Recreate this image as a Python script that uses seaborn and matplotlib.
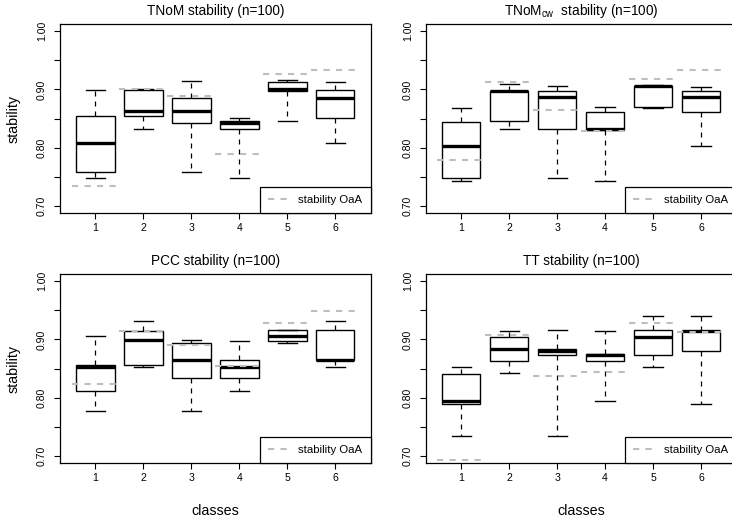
import numpy as np
import pandas as pd
import matplotlib
matplotlib.use("Agg")
import matplotlib.pyplot as plt
from matplotlib.lines import Line2D
import seaborn as sns

plt.rcParams["font.family"] = ["Liberation Sans", "DejaVu Sans"]
plt.rcParams["mathtext.fontset"] = "custom"
plt.rcParams["mathtext.rm"] = "Liberation Sans"
plt.rcParams["mathtext.it"] = "Liberation Sans:italic"

classes = [1, 2, 3, 4, 5, 6]

# Five-number summaries (whisker low, Q1, median, Q3, whisker high) per class
tnom_low = [0.749, 0.833, 0.758, 0.749, 0.846, 0.808]
tnom_q1 = [0.758, 0.855, 0.843, 0.833, 0.897, 0.851]
tnom_median = [0.808, 0.863, 0.863, 0.842, 0.900, 0.886]
tnom_q3 = [0.855, 0.899, 0.886, 0.846, 0.912, 0.899]
tnom_high = [0.899, 0.900, 0.915, 0.851, 0.916, 0.912]
tnom_oaa = [0.735, 0.901, 0.889, 0.789, 0.926, 0.933]

tnomcw_low = [0.744, 0.832, 0.748, 0.744, 0.868, 0.804]
tnomcw_q1 = [0.748, 0.846, 0.832, 0.831, 0.870, 0.862]
tnomcw_median = [0.804, 0.898, 0.887, 0.833, 0.906, 0.887]
tnomcw_q3 = [0.845, 0.898, 0.897, 0.862, 0.906, 0.897]
tnomcw_high = [0.868, 0.909, 0.906, 0.870, 0.908, 0.905]
tnomcw_oaa = [0.780, 0.913, 0.864, 0.829, 0.918, 0.934]

pcc_low = [0.777, 0.853, 0.777, 0.8125, 0.894, 0.853]
pcc_q1 = [0.8125, 0.856, 0.834, 0.834, 0.897, 0.864]
pcc_median = [0.853, 0.899, 0.864, 0.853, 0.906, 0.864]
pcc_q3 = [0.856, 0.915, 0.894, 0.864, 0.916, 0.916]
pcc_high = [0.906, 0.931, 0.899, 0.897, 0.916, 0.931]
pcc_oaa = [0.824, 0.915, 0.891, 0.855, 0.928, 0.948]

tt_low = [0.735, 0.842, 0.735, 0.794, 0.852, 0.790]
tt_q1 = [0.790, 0.8625, 0.874, 0.8625, 0.874, 0.880]
tt_median = [0.794, 0.884, 0.881, 0.873, 0.905, 0.914]
tt_q3 = [0.841, 0.905, 0.883, 0.875, 0.916, 0.914]
tt_high = [0.852, 0.915, 0.916, 0.914, 0.940, 0.940]
tt_oaa = [0.694, 0.907, 0.8375, 0.845, 0.928, 0.912]

titles = [
    "TNoM stability (n=100)",
    r"TNoM$_{\mathrm{cw}}$  stability (n=100)",
    "PCC stability (n=100)",
    "TT stability (n=100)",
]
ytick_values = [0.70, 0.75, 0.80, 0.85, 0.90, 0.95, 1.00]
ytick_labels = ["0.70", "", "0.80", "", "0.90", "", "1.00"]

panels = [
    (titles[0], [tnom_low, tnom_q1, tnom_median, tnom_q3, tnom_high], tnom_oaa),
    (titles[1], [tnomcw_low, tnomcw_q1, tnomcw_median, tnomcw_q3, tnomcw_high], tnomcw_oaa),
    (titles[2], [pcc_low, pcc_q1, pcc_median, pcc_q3, pcc_high], pcc_oaa),
    (titles[3], [tt_low, tt_q1, tt_median, tt_q3, tt_high], tt_oaa),
]

W, H = 732, 521
fig = plt.figure(figsize=(W / 100, H / 100), dpi=100)
fig.patch.set_facecolor("white")

# panel frames in pixels: left, top, right, bottom
frames = [
    (60, 24, 370.8, 213.3),
    (425.7, 24, 736.5, 213.3),
    (60, 274, 370.8, 463.3),
    (425.7, 274, 736.5, 463.3),
]

oaa_color = "#bebebe"

for idx, ((title, stats, oaa), (l, t, r, b)) in enumerate(zip(panels, frames)):
    ax = fig.add_axes([l / W, 1 - b / H, (r - l) / W, (b - t) / H])
    values = np.column_stack(stats).ravel()
    df = pd.DataFrame({"class": np.repeat(classes, 5), "stability": values})
    sns.boxplot(
        data=df, x="class", y="stability", ax=ax,
        color="white", linecolor="black", linewidth=1.0, width=0.8,
        saturation=1, whis=(0, 100), fliersize=0,
        medianprops=dict(linewidth=2.4, solid_capstyle="butt"),
        whiskerprops=dict(linestyle=(0, (4, 4)), linewidth=0.9),
    )
    for i, v in enumerate(oaa):
        ax.hlines(v, i - 0.5, i + 0.5, colors=oaa_color, linewidth=1.5,
                  linestyles=(0, (3, 3)), zorder=5)

    ax.set_xlim(-0.74, 5.74)
    ax.set_ylim(0.688, 1.012)
    ax.set_yticks(ytick_values)
    ax.set_yticklabels(ytick_labels)
    ax.set_xticks(range(len(classes)))
    ax.set_xticklabels([str(c) for c in classes])
    ax.tick_params(direction="out", length=4.3, width=0.8, labelsize=7.6,
                   colors="black")
    ax.tick_params(axis="x", pad=2.5)
    ax.tick_params(axis="y", pad=5.0)
    for lab in ax.get_yticklabels():
        lab.set_rotation(90)
        lab.set_va("center")
    for sp in ax.spines.values():
        sp.set_visible(True)
        sp.set_linewidth(0.9)
        sp.set_color("black")

    ax.set_title(title, fontsize=9.8, pad=6.5)
    if idx % 2 == 0:
        ax.set_ylabel("stability", fontsize=10.3)
        ax.yaxis.set_label_coords(-0.150, 0.5)
        ax.yaxis.label.set_va("center")
    else:
        ax.set_ylabel("")
    if idx >= 2:
        ax.set_xlabel("classes", fontsize=10.3)
        ax.xaxis.set_label_coords(0.5, -0.250)
        ax.xaxis.label.set_va("center")
    else:
        ax.set_xlabel("")

    handle = Line2D([], [], color=oaa_color, linewidth=1.5, linestyle=(0, (3, 3)))
    leg = ax.legend([handle], ["stability OaA"], loc="lower right",
                    borderaxespad=0, fancybox=False, framealpha=1,
                    edgecolor="black", fontsize=8.2, handlelength=1.85,
                    handletextpad=0.85, borderpad=0.72)
    leg.get_frame().set_linewidth(0.9)
    leg.set_zorder(10)

fig.savefig("out.png", dpi=100, facecolor="white")
